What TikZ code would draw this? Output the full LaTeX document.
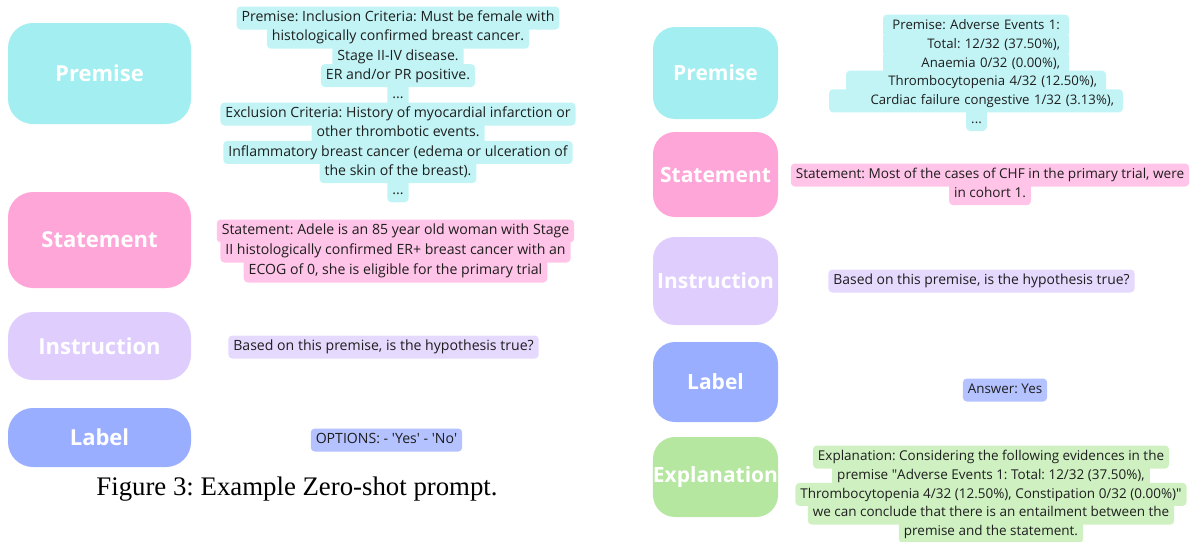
\documentclass[tikz,border=0pt]{standalone}
\usepackage{fontspec}
\setmainfont{Open Sans}
\newfontfamily\capfont{Liberation Serif}
\usepackage{xcolor}
\usetikzlibrary{positioning}
\frenchspacing

\definecolor{txt}{HTML}{1E1E1E}
\definecolor{premcol}{HTML}{A2EEF0}
\definecolor{premhl}{HTML}{C2F4F6}
\definecolor{statcol}{HTML}{FFA6D9}
\definecolor{stathl}{HTML}{FFC4E7}
\definecolor{instcol}{HTML}{DFCEFD}
\definecolor{insthl}{HTML}{E5D9FD}
\definecolor{labcol}{HTML}{9AAEFF}
\definecolor{labhl}{HTML}{B4C2FF}
\definecolor{explcol}{HTML}{B5E7A0}
\definecolor{explhl}{HTML}{CFF1C2}

\begin{document}
\begin{tikzpicture}[x=1pt, y=-1pt,
    tag/.style={rounded corners=25pt, inner sep=0pt, text=white,
      font=\fontsize{22}{26}\selectfont\bfseries},
    rtag/.style={tag, rounded corners=22pt, minimum width=125pt,
      font=\fontsize{21}{25}\selectfont\bfseries},
    hl/.style={rounded corners=4pt, inner xsep=5pt, inner ysep=0pt,
      minimum height=23pt, text height=10.5pt, text depth=3.3pt, text=txt,
      font=\fontsize{14.1}{19}\selectfont},
    rhl/.style={hl, font=\fontsize{#1}{18.7}\selectfont},
    rhl/.default=13.2
  ]
  \useasboundingbox (0,0) rectangle (1193,541);

  \node[tag, fill=premcol, minimum width=183pt, minimum height=101pt] (lprem) at (99.5,73.5) {Premise};
  \node[tag, fill=statcol, minimum width=183pt, minimum height=96pt] (lstat) at (99.5,240) {Statement};
  \node[tag, fill=instcol, minimum width=183pt, minimum height=68pt] (linst) at (99.5,346) {Instruction};
  \node[tag, fill=labcol, minimum width=183pt, minimum height=59pt] (llab) at (99.5,437.5) {Label};

  \node[hl, fill=premhl] (lp1) at (398,18) {Premise: Inclusion Criteria: Must be female with};
  \node[hl, fill=premhl] (lp2) at (398,37.2) {histologically confirmed breast cancer.};
  \node[hl, fill=premhl] (lp3) at (398,56.4) {Stage II-IV disease.};
  \node[hl, fill=premhl] (lp4) at (398,75.6) {ER and/or PR positive.};
  \node[hl, fill=premhl] (lp5) at (398,94.8) {...};
  \node[hl, fill=premhl] (lp6) at (398,114) {Exclusion Criteria: History of myocardial infarction or};
  \node[hl, fill=premhl] (lp7) at (398,133.2) {other thrombotic events.};
  \node[hl, fill=premhl] (lp8) at (398,152.4) {Inflammatory breast cancer (edema or ulceration of};
  \node[hl, fill=premhl] (lp9) at (398,171.6) {the skin of the breast).};
  \node[hl, fill=premhl] (lp10) at (398,190.8) {...};

  \node[hl, fill=stathl] (ls1) at (395.5,231) {Statement: Adele is an 85 year old woman with Stage};
  \node[hl, fill=stathl] (ls2) at (395.5,251) {II histologically confirmed ER+ breast cancer with an};
  \node[hl, fill=stathl] (ls3) at (395.5,271) {ECOG of 0, she is eligible for the primary trial};

  \node[hl, fill=insthl] (li1) at (383.5,347) {Based on this premise, is the hypothesis true?};
  \node[hl, fill=labhl] (ll1) at (386.5,440) {OPTIONS: - \textquotesingle Yes\textquotesingle\ - \textquotesingle No\textquotesingle};

  \node[font=\capfont\fontsize{26.8}{32}\selectfont, text=black, inner sep=0pt] (cap) at (297,489) {Figure 3: Example Zero-shot prompt.};

  \node[rtag, fill=premcol, minimum height=92pt] (rprem) at (715.5,73) {Premise};
  \node[rtag, fill=statcol, minimum height=85pt] (rstat) at (715.5,174.5) {Statement};
  \node[rtag, fill=instcol, minimum height=88pt] (rinst) at (715.5,281) {Instruction};
  \node[rtag, fill=labcol, minimum height=80pt] (rlab) at (715.5,382) {Label};
  \node[rtag, fill=explcol, minimum height=80pt] (rexpl) at (715.5,477) {Explanation};

  \node[rhl, fill=premhl, inner xsep=9pt, text width=168pt, align=right] (rp1) at (976,26) {Premise: Adverse Events 1:};
  \node[rhl, fill=premhl, inner xsep=9pt, text width=168pt, align=right] (rp2) at (976,44.7) {Total: 12/32 (37.50\%),};
  \node[rhl, fill=premhl, inner xsep=9pt, text width=168pt, align=right] (rp3) at (976,63.4) {Anaemia 0/32 (0.00\%),};
  \node[rhl, fill=premhl, inner xsep=9pt, text width=242pt, align=right] (rp4) at (976,82.1) {Thrombocytopenia 4/32 (12.50\%),};
  \node[rhl, fill=premhl, inner xsep=9pt, text width=276pt, align=right] (rp5) at (976,100.8) {Cardiac failure congestive 1/32 (3.13\%),};
  \node[rhl, fill=premhl] (rp6) at (976.5,119.5) {...};

  \node[rhl=13.6, fill=stathl] (rs1) at (990,175) {Statement: Most of the cases of CHF in the primary trial, were};
  \node[rhl=13.6, fill=stathl] (rs2) at (990,193.7) {in cohort 1.};

  \node[rhl=13.9, fill=insthl] (ri1) at (981.5,281) {Based on this premise, is the hypothesis true?};
  \node[rhl=13.4, fill=labhl] (rl1) at (1005,390) {Answer: Yes};

  \node[rhl=13.5, fill=explhl] (re1) at (991,457) {Explanation: Considering the following evidences in the};
  \node[rhl=13.5, fill=explhl] (re2) at (991,475.7) {premise \textquotedbl Adverse Events 1: Total: 12/32 (37.50\%),};
  \node[rhl=13.5, fill=explhl] (re3) at (991,494.4) {Thrombocytopenia 4/32 (12.50\%), Constipation 0/32 (0.00\%)\textquotedbl};
  \node[rhl=13.5, fill=explhl] (re4) at (991,513.1) {we can conclude that there is an entailment between the};
  \node[rhl=13.5, fill=explhl] (re5) at (991,531.8) {premise and the statement.};
\end{tikzpicture}
\end{document}
